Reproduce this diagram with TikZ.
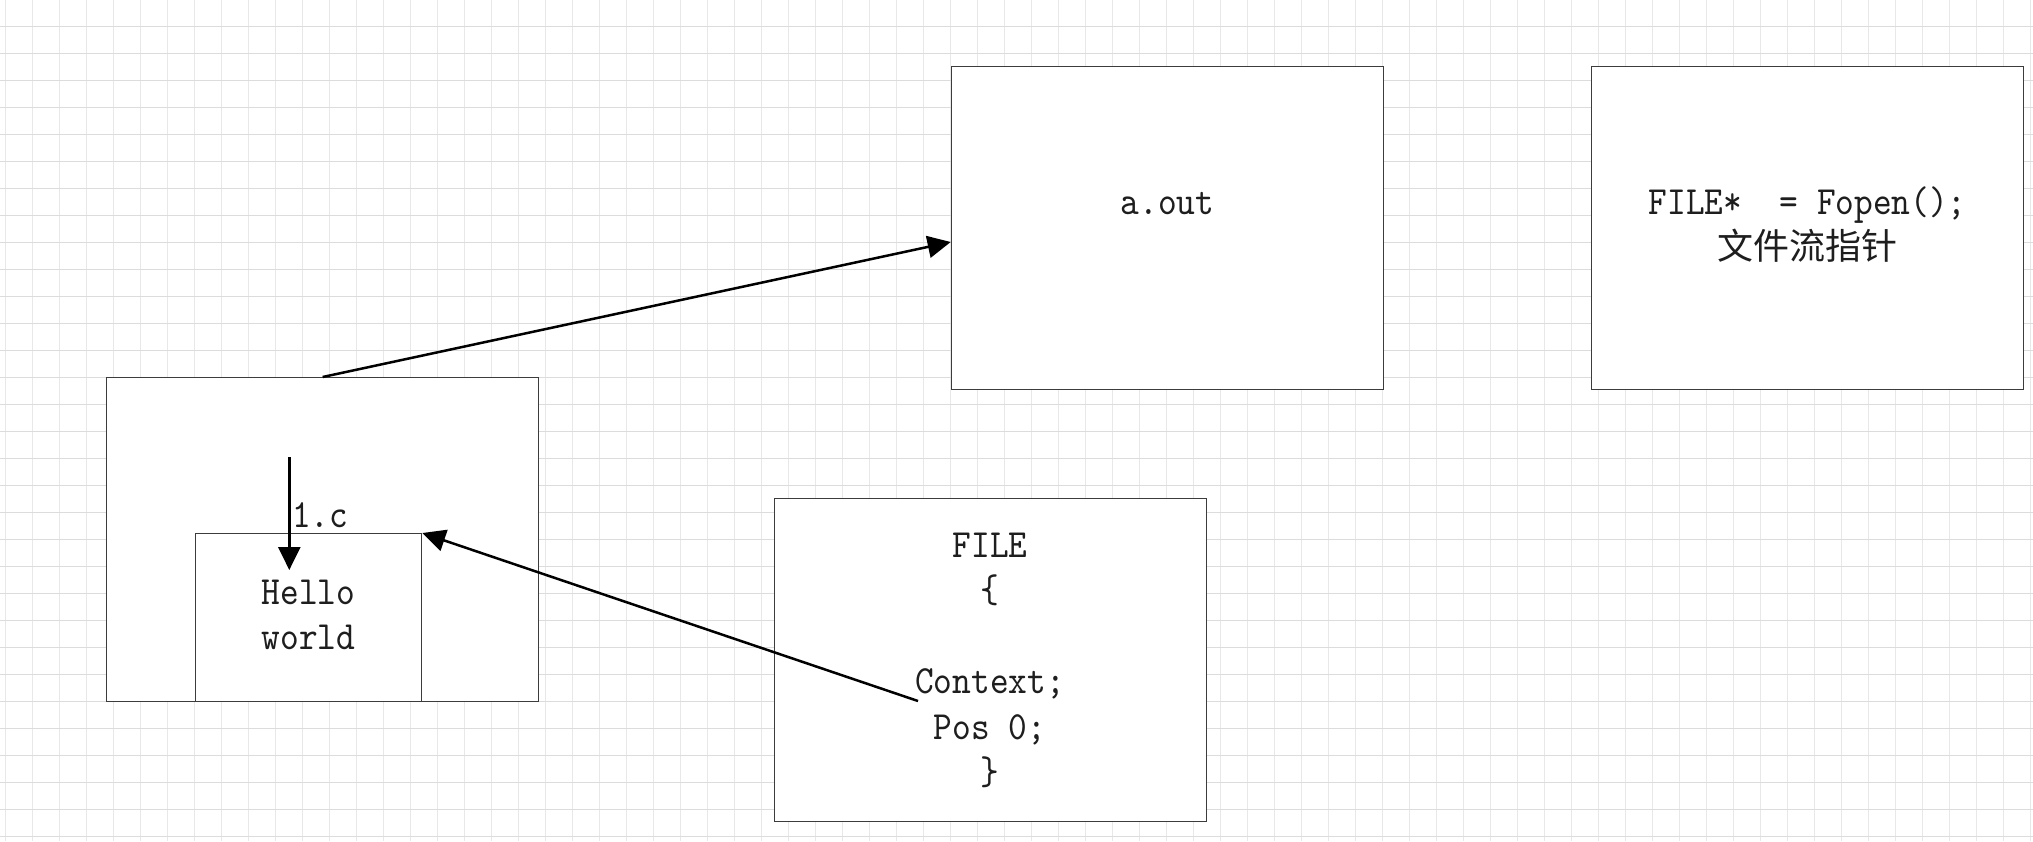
\documentclass[tikz,border=0pt]{standalone}
\usepackage{fontspec}
\usetikzlibrary{arrows.meta}
\newfontfamily\cjkfont{Noto Sans CJK SC}
\newfontfamily\codefam[FakeStretch=0.89]{lmmono10-regular.otf}
\definecolor{gridv}{RGB}{232,232,232}
\definecolor{gridh}{RGB}{220,220,220}
\definecolor{boxline}{RGB}{60,60,60}
\definecolor{txt}{RGB}{30,30,30}
\tikzset{
  codefont/.style={font=\codefam\fontsize{40}{45.5}\selectfont, text=txt},
  panel/.style={draw=boxline, line width=1.3pt, fill=white, rectangle, inner sep=0pt,
    anchor=north west, align=center, codefont},
  conn/.style={line width=2.5pt, -{Triangle[length=23pt,width=22pt]}},
}
\begin{document}
\begin{tikzpicture}[x=1pt,y=-1pt]
\fill[white] (0,0) rectangle (2033,841);
\useasboundingbox (0,0) rectangle (2033,841);
% grid
\foreach \k in {0,...,75} \draw[gridv, line width=1.4pt] (5.7+27*\k,0) -- (5.7+27*\k,841);
\foreach \k in {0,...,30} \draw[gridh, line width=1pt] (0,26.3+27*\k) -- (2033,26.3+27*\k);
% boxes
\node[panel, minimum width=432pt, minimum height=324pt] (outer) at (106,377) {};
\node[panel, minimum width=226.3pt, minimum height=168pt] (inner) at (194.7,533)
  {\strut Hello\\\strut world};
\node[panel, minimum width=432pt, minimum height=323.3pt] (aout) at (950.7,65.7)
  {\strut a.out\\\strut};
\node[panel, minimum width=432pt, minimum height=323.3pt] (fptr) at (1591,65.7)
  {\strut FILE*\ \ = Fopen();\\\strut{\cjkfont\fontsize{36}{45.5}\selectfont 文件流指针}};
\node[panel, minimum width=432pt, minimum height=323.3pt] (filebox) at (774,497.7) {};
\node[codefont, align=center, inner sep=0pt, anchor=north] (filetext) at (990,525.2)
  {\strut FILE\\\{\\\mbox{}\\Context;\\Pos 0;\\\}\strut};
\node[codefont, inner sep=0pt, anchor=base west] (lbl) at (292,527) {1.c};
% connectors
\coordinate (aoutin) at (950.7,242);
\coordinate (downstart) at (289.3,457);
\coordinate (downend) at (289.3,570);
\coordinate (ctxstart) at (918,701);
\draw[conn] (outer.north) -- (aoutin);
\draw[conn] (downstart) -- (downend);
\draw[conn] (ctxstart) -- (inner.north east);
\end{tikzpicture}
\end{document}
